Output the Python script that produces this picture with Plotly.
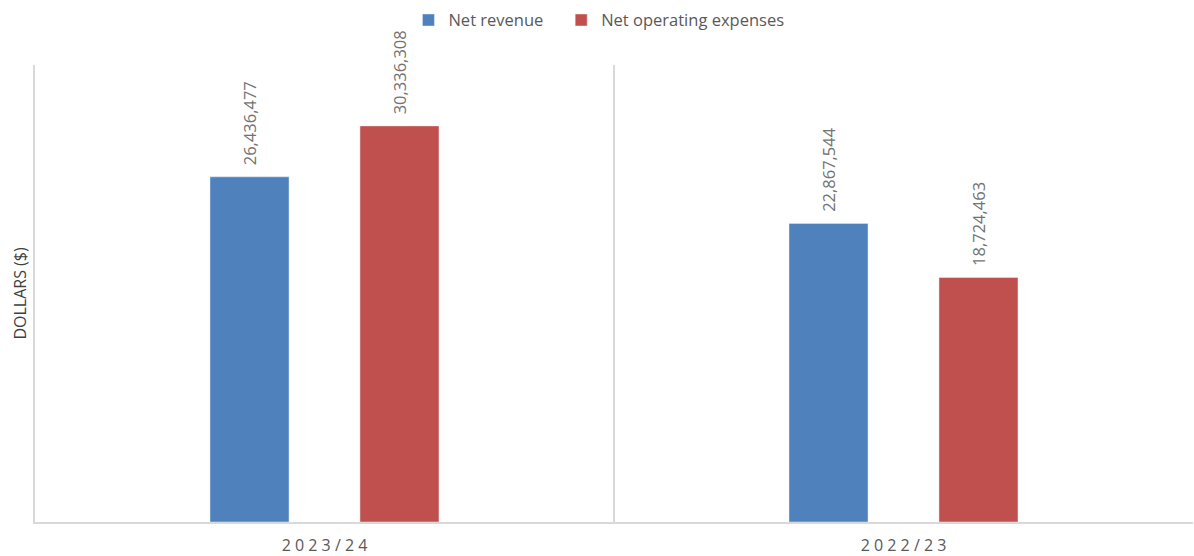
import plotly.graph_objects as go

# Fiscal years and totals (dollars)
years = ["2023/24", "2022/23"]
year_labels = ["2 0 2 3 / 2 4", "2 0 2 2 / 2 3"]
net_revenue = [26436477, 22867544]
net_operating_expenses = [30336308, 18724463]

BLUE = "#4f81bd"
RED = "#c0504d"
GRID = "#d9d9d9"
TEXT = "#595959"
FONT = "Open Sans"
PAD = "\u00a0\u00a0"  # keeps the value labels clear of the bar tops


def fmt(values):
    return [PAD + f"{v:,}" for v in values]


label_font = dict(color="#737373", size=16.5, family=FONT)

fig = go.Figure()
fig.add_trace(go.Bar(
    name="Net revenue\u00a0\u00a0\u00a0", x=years, y=net_revenue, marker_color=BLUE,
    text=fmt(net_revenue), textposition="outside", constraintext="none",
    textangle=-90, textfont=label_font, cliponaxis=False,
))
fig.add_trace(go.Bar(
    name="Net operating expenses", x=years, y=net_operating_expenses,
    marker_color=RED,
    text=fmt(net_operating_expenses), textposition="outside", constraintext="none",
    textangle=-90, textfont=label_font, cliponaxis=False,
))

# divider between the two fiscal years
fig.add_shape(type="line", xref="x", yref="paper", x0=0.5, x1=0.5, y0=0, y1=1,
              line=dict(color=GRID, width=2))

fig.update_layout(
    width=1194, height=556,
    margin=dict(l=35, r=1, t=65, b=34),
    plot_bgcolor="white", paper_bgcolor="white",
    barmode="group", bargap=0.482, bargroupgap=0.473,
    font=dict(family=FONT, color=TEXT),
    legend=dict(orientation="h", x=0.487, xanchor="center", y=0.995,
                yanchor="top", yref="container", itemwidth=30,
                font=dict(size=16.5, color=TEXT)),
    showlegend=True,
)
fig.update_xaxes(
    showline=True, linecolor=GRID, linewidth=2, showgrid=False,
    ticks="", tickvals=years, ticktext=year_labels, ticklabelstandoff=8,
    tickfont=dict(size=16, color=TEXT, family=FONT),
)
fig.update_yaxes(
    range=[0, 35000000], showline=True, linecolor=GRID, linewidth=2,
    showgrid=False, zeroline=False, showticklabels=False, ticks="",
    title=dict(text="DOLLARS ($)", font=dict(size=16, color="#404040", family=FONT),
               standoff=2),
)

fig.write_html("out.html")
